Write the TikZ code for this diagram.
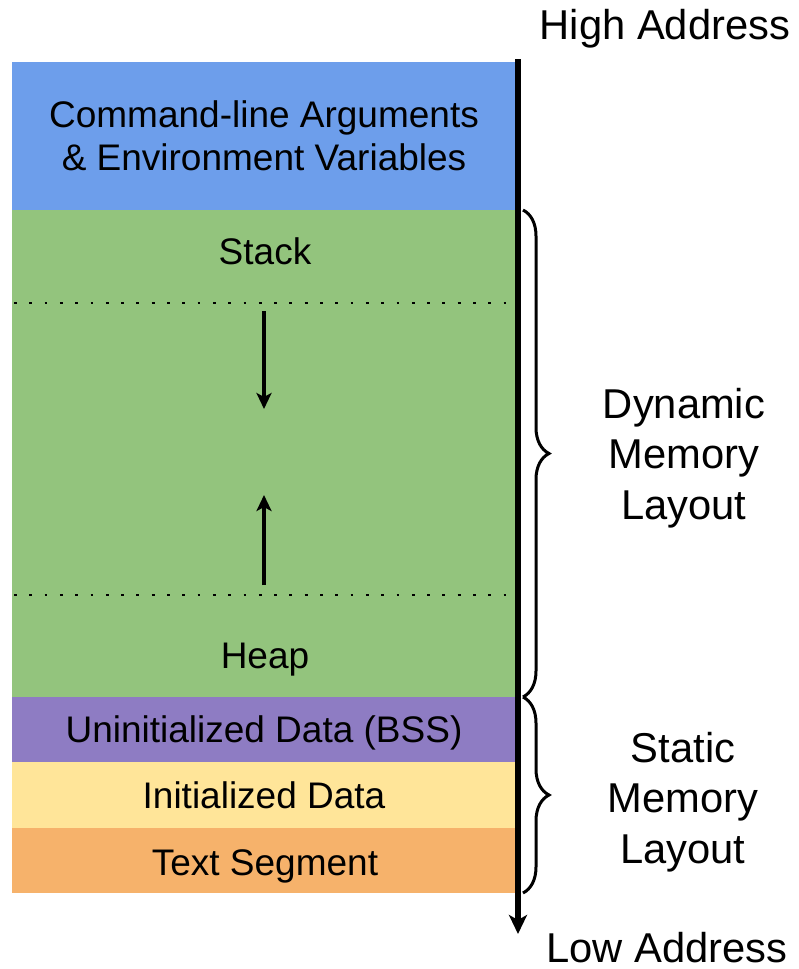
\documentclass[tikz,border=0pt]{standalone}
\usepackage{fontspec}
\setmainfont{Liberation Sans}
\usetikzlibrary{arrows.meta,decorations.pathreplacing}

\definecolor{argblue}{HTML}{6D9EEB}
\definecolor{dyngreen}{HTML}{93C47D}
\definecolor{bsspurple}{HTML}{8E7CC3}
\definecolor{inityellow}{HTML}{FFE599}
\definecolor{textorange}{HTML}{F6B26B}

\tikzset{
  % single-line texts are centred on their capital height
  capbox/.style={text height=26.5pt, text depth=0pt},
  capside/.style={text height=29.9pt, text depth=0pt},
  segment/.style={draw=none, inner sep=0pt, minimum width=504pt, align=center,
    font=\fontsize{37}{43}\selectfont},
  label/.style={inner sep=0pt, align=center, capbox,
    font=\fontsize{37}{43}\selectfont},
  sidelabel/.style={inner sep=0pt, align=center,
    font=\fontsize{41.7}{50.5}\selectfont},
  boundary/.style={line width=2.8pt, dash pattern=on 2.8pt off 12.5pt},
  growth/.style={line width=3.2pt, -{Stealth[length=16pt,width=15pt,inset=4pt]}},
  region/.style={line width=3pt, decorate,
    decoration={brace, amplitude=26pt}},
}

\begin{document}
\begin{tikzpicture}[x=1pt,y=-1pt]
\useasboundingbox (0,0) rectangle (798,969);

% memory segments, from high to low addresses
\node[segment, fill=argblue, minimum height=148pt] (args) at (264,136)
  {Command-line Arguments\\\& Environment Variables};
\node[segment, fill=dyngreen, minimum height=487pt] (dyn) at (264,453.5) {};
\node[segment, capbox, fill=bsspurple, minimum height=65pt] (bss) at (264,729.5)
  {Uninitialized Data (BSS)};
\node[segment, capbox, fill=inityellow, minimum height=66pt] (init) at (264,795)
  {Initialized Data};
\node[segment, fill=textorange, minimum height=65pt] (txt) at (264,860.5) {};
\node[label] (txtlbl) at (265,862) {Text Segment};

% stack and heap inside the dynamic region
\node[label] (stack) at (265,251.5) {Stack};
\node[label] (heap) at (265,655) {Heap};

\coordinate (stackL) at (14,303);
\coordinate (stackR) at (514,303);
\coordinate (heapL) at (14,595);
\coordinate (heapR) at (514,595);
\draw[boundary] (stackL) -- (stackR);
\draw[boundary] (heapL) -- (heapR);

% growth directions
\coordinate (sgrowA) at (264,311);
\coordinate (sgrowB) at (264,409);
\coordinate (hgrowA) at (264,585);
\coordinate (hgrowB) at (264,495);
\draw[growth] (sgrowA) -- (sgrowB);
\draw[growth] (hgrowA) -- (hgrowB);

% address axis
\coordinate (axTop) at (518,59);
\coordinate (axBot) at (518,934);
\draw[line width=5.5pt, -{Stealth[length=19pt,width=18pt,inset=5pt]}] (axTop) -- (axBot);
\node[sidelabel, capside] (high) at (665,25) {High Address};
\node[sidelabel, capside] (low) at (667,948) {Low Address};

% region braces
\coordinate (dynTop) at (523,210);
\coordinate (dynBot) at (523,697);
\coordinate (stTop) at (523,697);
\coordinate (stBot) at (523,893);
\draw[region] (dynTop) -- (dynBot);
\draw[region] (stTop) -- (stBot);
\node[sidelabel] (dynlbl) at (684,458) {Dynamic\\Memory\\Layout};
\node[sidelabel] (stlbl) at (683,802) {Static\\Memory\\Layout};
\end{tikzpicture}
\end{document}
